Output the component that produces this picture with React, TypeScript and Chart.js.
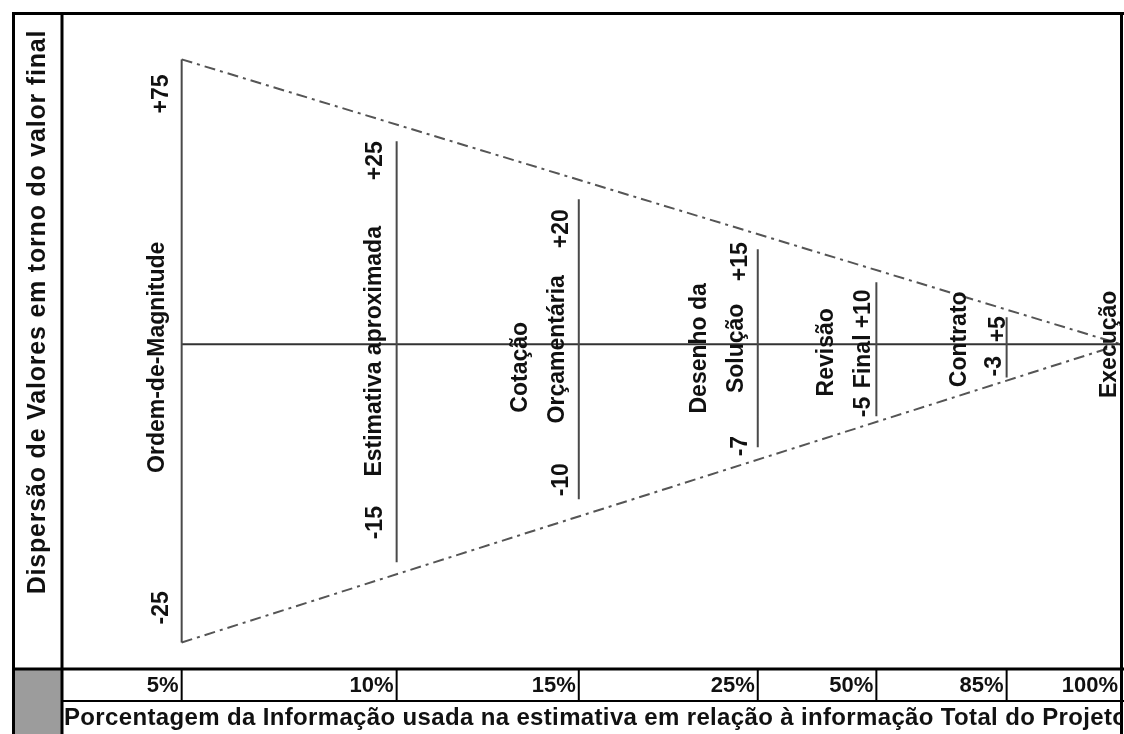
import React, { useEffect, useRef } from 'react';
import { Chart, registerables } from 'chart.js';

Chart.register(...registerables);

// ---- Data ----
const categories = ['5%', '10%', '15%', '25%', '50%', '85%', '100%'];
const stageNames = [
  ['Ordem-de-Magnitude'],
  ['Estimativa aproximada'],
  ['Cotação', 'Orçamentária'],
  ['Desenho da', 'Solução'],
  ['Revisão', 'Final'],
  ['Contrato'],
  ['Execução'],
];
const upperLabels = ['+75', '+25', '+20', '+15', '+10', '+5', ''];
const lowerLabels = ['-25', '-15', '-10', '-7', '-5', '-3', ''];
// horizontal placement of each stage on the drawing's x axis (0..100 drawing units)
const xPositions = [11.3, 31.6, 48.8, 65.7, 76.9, 89.2, 100];
// drawn extent of each range line (drawing units, centre = 0)
const upperExtent = [86, 61.3, 43.8, 28.7, 18.7, 8.2, 0];
const lowerExtent = [-90, -65.8, -46.8, -31.1, -21.7, -10, 0];
const yAxisTitle = 'Dispersão de Valores em torno do valor final';
const xAxisTitle =
  'Porcentagem da Informação usada na estimativa em relação à informação Total do Projeto';

// ---- Label layout (style only, pixels) ----
const upperDx = [-20, -21, -17, -17, -13, -8, 0];
const upperDy = [15, 0, 10, -7, 7, -1, 0];
const lowerDx = [-20, -21, -17, -17, -13, -12, 0];
const lowerDy = [-18, -23, -3, 9, 1, -1, 0];
const nameDx = [-24, -22, -21, -21, -13, -47, -11];
const nameLineGap = 37;
const nameDy = [[13], [7], [23, 5], [4, 4], [8, 17], [-5], [0]];

const FONT = '"Liberation Sans", Arial, "DejaVu Sans", sans-serif';

const rangeData = xPositions.flatMap((x, i) =>
  i < xPositions.length - 1
    ? [
        { x, y: lowerExtent[i] },
        { x, y: upperExtent[i] },
        { x, y: null as any },
      ]
    : []
);

const last = xPositions.length - 1;

const conePlugin = {
  id: 'conePlugin',
  beforeDraw(chart: any) {
    const ctx = chart.ctx;
    ctx.save();
    ctx.fillStyle = '#ffffff';
    ctx.fillRect(0, 0, chart.width, chart.height);
    ctx.restore();
  },
  afterDatasetsDraw(chart: any) {
    const ctx = chart.ctx as CanvasRenderingContext2D;
    const xs = chart.scales.x;
    const ys = chart.scales.y;
    const cy = ys.getPixelForValue(0);
    ctx.save();
    ctx.fillStyle = '#111';
    ctx.font = `bold 23px ${FONT}`;
    const drawRot = (text: string, x: number, y: number, align: CanvasTextAlign) => {
      ctx.save();
      ctx.translate(x, y);
      ctx.rotate(-Math.PI / 2);
      ctx.textAlign = align;
      ctx.textBaseline = 'middle';
      ctx.fillText(text, 0, 0);
      ctx.restore();
    };
    categories.forEach((_, i) => {
      const px = xs.getPixelForValue(xPositions[i]);
      const top = ys.getPixelForValue(upperExtent[i]);
      const bot = ys.getPixelForValue(lowerExtent[i]);
      if (upperLabels[i]) drawRot(upperLabels[i], px + upperDx[i], top + upperDy[i], 'right');
      if (lowerLabels[i]) drawRot(lowerLabels[i], px + lowerDx[i], bot + lowerDy[i], 'left');
      const lines = stageNames[i];
      lines.forEach((ln, k) => {
        const fromLast = lines.length - 1 - k;
        drawRot(ln, px + nameDx[i] - fromLast * nameLineGap, cy + nameDy[i][k], 'center');
      });
    });
    ctx.restore();
  },
  afterDraw(chart: any) {
    const ctx = chart.ctx as CanvasRenderingContext2D;
    const xs = chart.scales.x;
    const area = chart.chartArea;
    const W = chart.width;
    const H = chart.height;
    const outerLeft = 12;
    const rowTop = area.bottom;
    const rowBottom = area.bottom + 32;
    ctx.save();
    // grey corner cell
    ctx.fillStyle = '#9c9c9c';
    ctx.fillRect(outerLeft + 2, rowTop, area.left - outerLeft - 3, H - rowTop);

    ctx.strokeStyle = '#000';
    const line = (x1: number, y1: number, x2: number, y2: number, w = 3) => {
      ctx.lineWidth = w;
      ctx.beginPath();
      ctx.moveTo(x1, y1);
      ctx.lineTo(x2, y2);
      ctx.stroke();
    };
    line(outerLeft + 1.5, 12, outerLeft + 1.5, H); // outer left
    line(outerLeft, 13.5, W, 13.5); // top
    line(area.left, 12, area.left, H); // divider
    line(area.right + 0.5, 12, area.right + 0.5, H); // right
    line(outerLeft, area.bottom, W, area.bottom, 3); // plot bottom
    line(area.left, rowBottom, W, rowBottom, 2); // table row bottom

    // table dividers + percentage labels
    ctx.fillStyle = '#111';
    ctx.font = `bold 22px ${FONT}`;
    ctx.textAlign = 'right';
    ctx.textBaseline = 'middle';
    categories.forEach((c, i) => {
      const px = xs.getPixelForValue(xPositions[i]);
      if (i < last) line(px, rowTop, px, rowBottom, 2);
      ctx.fillText(c, px - 3, (rowTop + rowBottom) / 2 + 1);
    });

    // x axis title (clipped at the frame)
    ctx.save();
    ctx.beginPath();
    ctx.rect(area.left + 1, rowBottom + 1, area.right - area.left - 1, H - rowBottom);
    ctx.clip();
    ctx.font = `bold 24px ${FONT}`;
    (ctx as any).letterSpacing = '0.35px';
    ctx.textAlign = 'left';
    ctx.textBaseline = 'middle';
    ctx.fillText(xAxisTitle, area.left + 2, (rowBottom + H) / 2 + 1);
    ctx.restore();

    // y axis title
    ctx.save();
    ctx.translate((outerLeft + area.left) / 2 + 1, 312);
    ctx.rotate(-Math.PI / 2);
    ctx.font = `bold 25px ${FONT}`;
    (ctx as any).letterSpacing = '0.8px';
    ctx.textAlign = 'center';
    ctx.textBaseline = 'middle';
    ctx.fillStyle = '#111';
    ctx.fillText(yAxisTitle, 0, 0);
    ctx.restore();

    ctx.restore();
  },
};

export default function App() {
  const ref = useRef<HTMLCanvasElement | null>(null);
  useEffect(() => {
    if (!ref.current) return;
    const chart = new Chart(ref.current, {
      type: 'line',
      data: {
        datasets: [
          {
            label: 'Faixas',
            data: rangeData as any,
            borderColor: '#4a4a4a',
            borderWidth: 2,
            pointRadius: 0,
            spanGaps: false,
          },
          {
            label: 'Centro',
            data: [
              { x: xPositions[0], y: 0 },
              { x: xPositions[last], y: 0 },
            ],
            borderColor: '#333',
            borderWidth: 2,
            pointRadius: 0,
          },
          {
            label: 'Limite superior',
            data: [
              { x: xPositions[0], y: upperExtent[0] },
              { x: xPositions[last], y: upperExtent[last] },
            ],
            borderColor: '#555',
            borderWidth: 2,
            borderDash: [11, 5, 3, 5],
            pointRadius: 0,
          },
          {
            label: 'Limite inferior',
            data: [
              { x: xPositions[0], y: lowerExtent[0] },
              { x: xPositions[last], y: lowerExtent[last] },
            ],
            borderColor: '#555',
            borderWidth: 2,
            borderDash: [11, 5, 3, 5],
            pointRadius: 0,
          },
        ],
      },
      options: {
        animation: false,
        responsive: false,
        events: [],
        layout: { padding: { left: 62, top: 13, right: 3, bottom: 65 } },
        plugins: { legend: { display: false }, tooltip: { enabled: false } },
        scales: {
          x: { type: 'linear', min: 0, max: 100, display: false },
          y: { type: 'linear', min: -98, max: 100, display: false },
        },
      },
      plugins: [conePlugin],
    });
    return () => chart.destroy();
  }, []);
  return (
    <div style={{ position: 'absolute', left: 0, top: 0, width: 1124, height: 734 }}>
      <canvas ref={ref} width={1124} height={734} />
    </div>
  );
}
